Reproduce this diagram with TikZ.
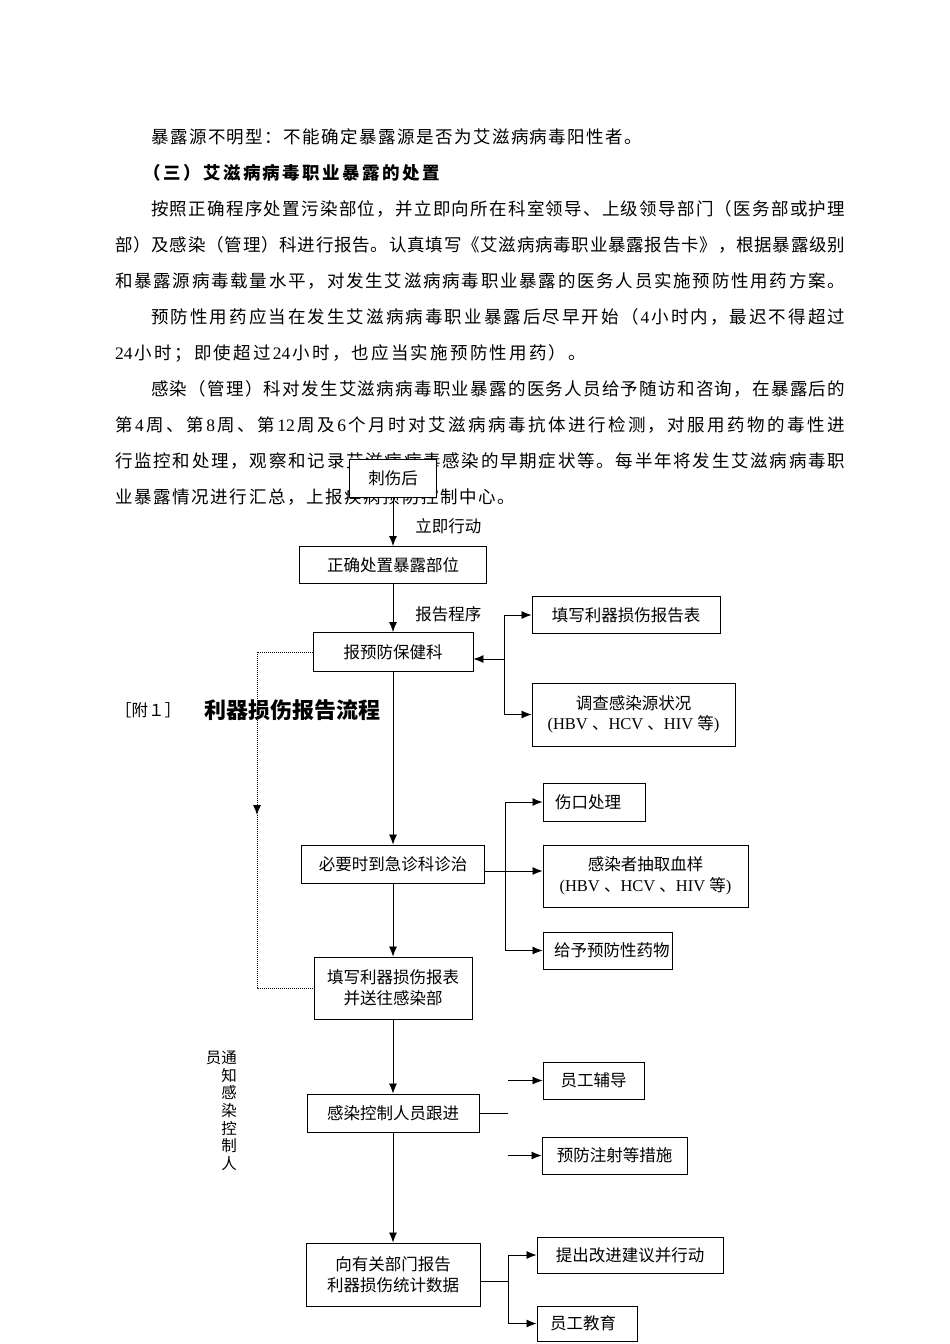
\documentclass[tikz,border=0pt]{standalone}
\usepackage{fontspec}
\setmainfont{Noto Sans CJK SC}
\newfontfamily\lat{Liberation Serif}
\usetikzlibrary{arrows.meta}

% spread the characters of one line over a given width
\makeatletter
\newcommand\spreadline[2]{\makebox[#1][s]{\spr@go#2\@nil}}
\def\spr@go#1{{#1}\spr@next}
\def\spr@next#1{\def\spr@tmp{#1}\ifx\spr@tmp\spr@stop\else\hfill{#1}\expandafter\spr@next\fi}
\def\spr@stop{\@nil}
\makeatother

\begin{document}
\begin{tikzpicture}[
    x=1pt, y=-1pt,
    >={Latex[length=10pt, width=8pt]},
    body/.style={anchor=west, inner sep=0pt, font=\fontsize{17.5}{17.5}\selectfont},
    box/.style={rectangle, draw, line width=0.9pt, fill=white, align=center, minimum height=37pt, inner sep=2pt, font=\fontsize{16.5}{20.5}\selectfont},
    leftbox/.style={box, align=left},
    arrow/.style={->, line width=0.8pt},
    link/.style={line width=0.8pt},
    dotlink/.style={line width=0.9pt, dash pattern=on 1pt off 1pt},
    lbl/.style={inner sep=0pt, font=\fontsize{16.5}{16.5}\selectfont}
]
\useasboundingbox (0,0) rectangle (950,1344);

% === Paragraph above the chart ===
\node[body] (t1) at (151,137) {\spreadline{491pt}{暴露源不明型：不能确定暴露源是否为艾滋病病毒阳性者。}};
\node[body, font=\fontsize{17.5}{17.5}\selectfont\bfseries] (t2) at (143,173) {\spreadline{297pt}{（三）艾滋病病毒职业暴露的处置}};
\node[body] (t3) at (151,209) {\spreadline{694pt}{按照正确程序处置污染部位，并立即向所在科室领导、上级领导部门（医务部或护理}};
\node[body] (t4) at (115,245) {\spreadline{730pt}{部）及感染（管理）科进行报告。认真填写《艾滋病病毒职业暴露报告卡》，根据暴露级别}};
\node[body] (t5) at (115,281) {\spreadline{730pt}{和暴露源病毒载量水平，对发生艾滋病病毒职业暴露的医务人员实施预防性用药方案。}};
\node[body] (t6) at (151,317) {\spreadline{694pt}{预防性用药应当在发生艾滋病病毒职业暴露后尽早开始（{\lat 4}小时内，最迟不得超过}};
\node[body] (t7) at (115,353) {\spreadline{471pt}{{\lat 24}小时；即使超过{\lat 24}小时，也应当实施预防性用药）。}};
\node[body] (t8) at (151,389) {\spreadline{694pt}{感染（管理）科对发生艾滋病病毒职业暴露的医务人员给予随访和咨询，在暴露后的}};
\node[body] (t9) at (115,425) {\spreadline{730pt}{第{\lat 4}周、第{\lat 8}周、第{\lat 12}周及{\lat 6}个月时对艾滋病病毒抗体进行检测，对服用药物的毒性进}};
\node[body] (t10) at (115,461) {\spreadline{730pt}{行监控和处理，观察和记录艾滋病病毒感染的早期症状等。每半年将发生艾滋病病毒职}};
\node[body] (t11) at (115,497) {\spreadline{400pt}{业暴露情况进行汇总，上报疾病预防控制中心。}};

% === Title ===
\node[body, font=\fontsize{16.5}{16.5}\selectfont] (fu) at (115,710) {［附１］};
\node[body, font=\fontsize{22}{22}\selectfont\bfseries] (title) at (204,710) {利器损伤报告流程};

% === Main column ===
\node[box, minimum width=87pt, minimum height=38pt] (cishang) at (393,478) {刺伤后};
\node[box, minimum width=187pt] (zhengque) at (393,565) {正确处置暴露部位};
\node[box, minimum width=160pt, minimum height=39pt] (baoyu) at (393,652) {报预防保健科};
\node[box, minimum width=183pt, minimum height=38pt] (jizhen) at (393,864) {必要时到急诊科诊治};
\node[box, minimum width=158pt, minimum height=62pt] (tianxie) at (393,988) {填写利器损伤报表\\并送往感染部};
\node[box, minimum width=172pt, minimum height=38pt] (genjin) at (393,1113) {感染控制人员跟进};
\node[box, minimum width=174pt, minimum height=63pt] (xiangyou) at (393,1274.5) {向有关部门报告\\利器损伤统计数据};

% === Right column ===
\node[box, minimum width=188pt] (biaoge) at (626,615) {填写利器损伤报告表};
\node[box, minimum width=203pt, minimum height=63pt] (diaocha) at (633.5,714.5) {调查感染源状况\\{\lat (HBV }、{\lat HCV }、{\lat HIV }等{\lat )}};
\node[leftbox, text width=78pt, inner xsep=12pt, minimum height=38pt] (shangkou) at (594,802) {伤口处理};
\node[box, minimum width=205pt, minimum height=62pt] (chouxue) at (645.5,876) {感染者抽取血样\\{\lat (HBV }、{\lat HCV }、{\lat HIV }等{\lat )}};
\node[leftbox, text width=107pt, inner xsep=11pt] (geiyu) at (607.5,950.5) {给予预防性药物};
\node[box, minimum width=101pt] (fudao) at (593.5,1080.5) {员工辅导};
\node[box, minimum width=145pt] (zhushe) at (614.5,1155.5) {预防注射等措施};
\node[box, minimum width=186pt, minimum height=36pt] (tichu) at (630,1255) {提出改进建议并行动};
\node[leftbox, text width=74pt, inner xsep=13pt, minimum height=35pt] (jiaoyu) at (587,1323.5) {员工教育};

% vertical note on the left
\node[anchor=north east, align=right, inner sep=0pt, font=\fontsize{15.5}{17.6}\selectfont] (tongzhi) at (237,1051) {员通\\知\\感\\染\\控\\制\\人};

% === Connectors ===
\draw[arrow] (cishang) -- (zhengque) node[lbl, pos=0.6, anchor=west, xshift=22pt] {立即行动};
\draw[arrow] (zhengque) -- (baoyu) node[lbl, pos=0.62, anchor=west, xshift=22pt] {报告程序};
\draw[arrow] (baoyu) -- (jizhen);
\draw[arrow] (jizhen) -- (tianxie);
\draw[arrow] (tianxie) -- (genjin);
\draw[arrow] (genjin) -- (xiangyou);

% fork beside 报预防保健科
\coordinate (fork1) at (504,659);
\draw[arrow] (fork1) -- (fork1 -| baoyu.east);
\draw[arrow] (fork1) |- (biaoge.west);
\draw[arrow] (fork1) |- (diaocha.west);

% fork beside 必要时到急诊科诊治
\coordinate (fork2) at (505,871);
\draw[link] (jizhen.east |- fork2) -- (fork2);
\draw[arrow] (fork2) -- (fork2 -| chouxue.west);
\draw[arrow] (fork2) |- (shangkou.west);
\draw[arrow] (fork2) |- (geiyu.west);

% stub beside 感染控制人员跟进
\coordinate (stub) at (508,1113);
\draw[link] (genjin.east) -- (stub);
\draw[arrow] (fudao.west -| stub) -- (fudao.west);
\draw[arrow] (zhushe.west -| stub) -- (zhushe.west);

% fork beside 向有关部门报告
\coordinate (fork3) at (508,1281);
\draw[link] (xiangyou.east |- fork3) -- (fork3);
\draw[arrow] (fork3) |- (tichu.west);
\draw[arrow] (fork3) |- (jiaoyu.west);

% dotted link on the left
\coordinate (dotmid) at (257,815);
\draw[arrow, dotlink] (baoyu.west) -| (dotmid);
\draw[dotlink] (dotmid) |- (tianxie.west);

\end{tikzpicture}
\end{document}
